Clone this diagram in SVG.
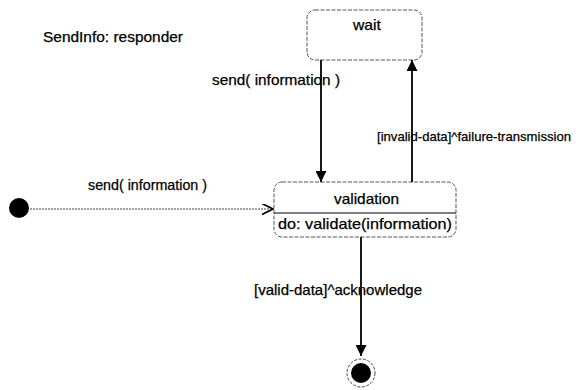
<svg xmlns="http://www.w3.org/2000/svg" width="579" height="390" viewBox="0 0 579 390">
<style>
text{font-family:"Liberation Sans",Arial,sans-serif;font-size:14.5px;fill:#000;stroke:#000;stroke-width:0.25}
text.small{font-size:13px}
.state{fill:#fff;stroke:#555;stroke-width:1;stroke-dasharray:4 1.5}
.edge{fill:none;stroke:#000;stroke-width:1.8}
.dot{fill:none;stroke:#444;stroke-width:1;stroke-dasharray:2 1}
</style>
<defs>
<marker id="tri" viewBox="0 0 10 10" refX="10" refY="5" markerWidth="13" markerHeight="11" markerUnits="userSpaceOnUse" orient="auto"><path d="M0,0 L10,5 L0,10 Z" fill="#000"/></marker>
<marker id="open" viewBox="0 0 10 10" refX="10" refY="5" markerWidth="12" markerHeight="11" markerUnits="userSpaceOnUse" orient="auto"><path d="M0,0 L10,5 L0,10" fill="none" stroke="#000" stroke-width="1.5"/></marker>
</defs>
<text x="43" y="42" textLength="140" lengthAdjust="spacingAndGlyphs">SendInfo: responder</text>
<g id="wait">
<rect class="state" x="307" y="10" width="115" height="50" rx="8"/>
<text x="353" y="30" textLength="28" lengthAdjust="spacingAndGlyphs">wait</text>
</g>
<g id="validation">
<rect class="state" x="274" y="182" width="182" height="55" rx="8"/>
<line x1="274" y1="213" x2="456" y2="213" stroke="#000" stroke-width="1.2"/>
<text x="334" y="204" textLength="65" lengthAdjust="spacingAndGlyphs">validation</text>
<text x="278" y="229" textLength="174" lengthAdjust="spacingAndGlyphs">do: validate(information)</text>
</g>
<g id="initial">
<circle cx="19" cy="208" r="10" fill="#000"/>
</g>
<g id="final">
<circle cx="361" cy="373" r="14" fill="none" stroke="#444" stroke-width="1" stroke-dasharray="3 1.5"/>
<circle cx="361" cy="373" r="10" fill="#000"/>
</g>
<g id="connectors">
<line class="dot" x1="30" y1="209" x2="273" y2="209" marker-end="url(#open)"/>
<text x="88" y="190" textLength="119" lengthAdjust="spacingAndGlyphs">send( information )</text>
<line class="edge" x1="321" y1="60" x2="321" y2="182" marker-end="url(#tri)"/>
<text x="212" y="85" textLength="128" lengthAdjust="spacingAndGlyphs">send( information )</text>
<line class="edge" x1="412" y1="182" x2="412" y2="60" marker-end="url(#tri)"/>
<text class="small" x="377" y="141" textLength="194" lengthAdjust="spacingAndGlyphs">[invalid-data]^failure-transmission</text>
<line class="edge" x1="361" y1="237" x2="361" y2="356" marker-end="url(#tri)"/>
<text x="254" y="295" textLength="168" lengthAdjust="spacingAndGlyphs">[valid-data]^acknowledge</text>
</g>
</svg>
